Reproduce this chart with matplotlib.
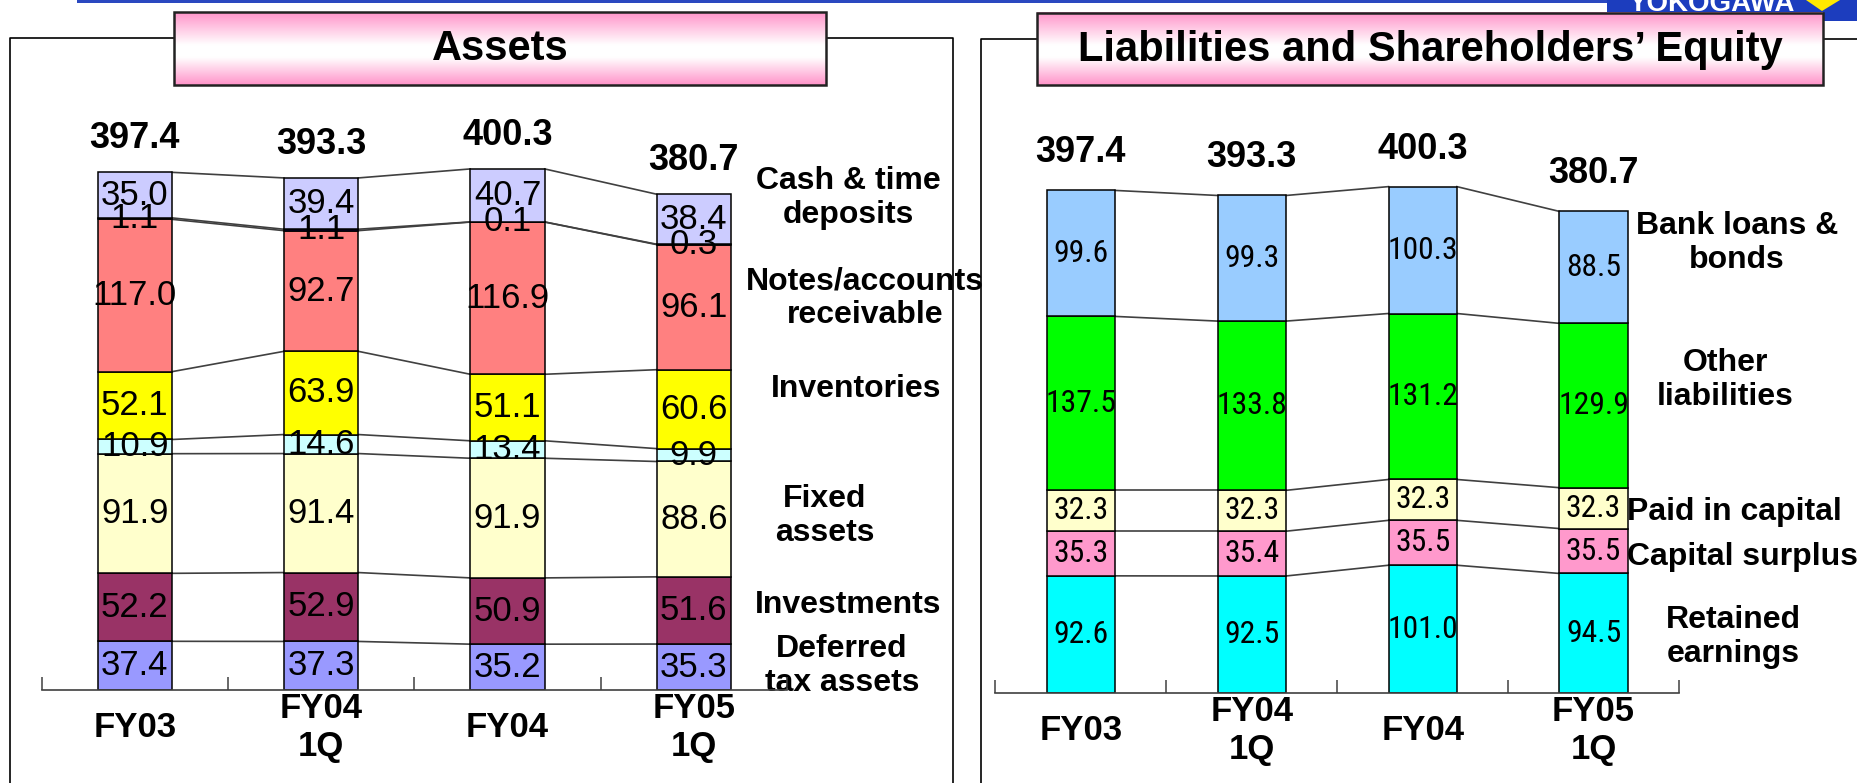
import matplotlib.pyplot as plt
import numpy as np
from matplotlib import font_manager
from matplotlib.font_manager import FontProperties
from matplotlib.textpath import TextPath
from matplotlib.patches import Rectangle, Polygon

plt.rcParams['font.family'] = ['Liberation Sans', 'DejaVu Sans']

# periods on the x axis
periods = ['FY03', 'FY04\n1Q', 'FY04', 'FY05\n1Q']
totals = [397.4, 393.3, 400.3, 380.7]

# assets (billion yen), bottom to top of each bar
deferred_tax = [37.4, 37.3, 35.2, 35.3]
investments = [52.2, 52.9, 50.9, 51.6]
fixed_assets = [91.9, 91.4, 91.9, 88.6]
other_current = [10.9, 14.6, 13.4, 9.9]
inventories = [52.1, 63.9, 51.1, 60.6]
receivables = [117.0, 92.7, 116.9, 96.1]
securities = [1.1, 1.1, 0.1, 0.3]
cash = [35.0, 39.4, 40.7, 38.4]

# liabilities and shareholders' equity, bottom to top
retained = [92.6, 92.5, 101.0, 94.5]
cap_surplus = [35.3, 35.4, 35.5, 35.5]
paid_in = [32.3, 32.3, 32.3, 32.3]
other_liab = [137.5, 133.8, 131.2, 129.9]
bank_loans = [99.6, 99.3, 100.3, 88.5]

asset_layers = [deferred_tax, investments, fixed_assets, other_current,
                inventories, receivables, securities, cash]
asset_colors = ['#9999FF', '#993366', '#FFFFCC', '#CCFFFF',
                '#FFFF00', '#FF8080', '#000066', '#CCCCFF']
liab_layers = [retained, cap_surplus, paid_in, other_liab, bank_loans]
liab_colors = ['#00FFFF', '#FF99CC', '#FFFFCC', '#00FF00', '#99CCFF']

W, H = 1858, 783
fig = plt.figure(figsize=(W / 100, H / 100), dpi=100)

# background axes in pixel units for frames, titles and side labels
bg = fig.add_axes([0, 0, 1, 1], zorder=0)
bg.axis('off')

# a narrow font for the right hand values, sized so "88.5" is about 52 px wide
names = {f.name for f in font_manager.fontManager.ttflist}
narrow_family = 'Liberation Sans'
for cand in ['Liberation Sans Narrow', 'Arial Narrow', 'Roboto Condensed',
             'Archivo Narrow', 'PT Sans Narrow', 'Open Sans Condensed',
             'IBM Plex Sans Condensed']:
    if cand in names:
        narrow_family = cand
        break
fp = FontProperties(family=narrow_family)
w100 = TextPath((0, 0), '88.5', size=100, prop=fp).get_extents().width
narrow_size = min(26, 52 * 72 / w100)
narrow = dict(family=narrow_family, size=narrow_size)


def px_axes(left, right, base, top):
    return fig.add_axes([left / W, 1 - base / H, (right - left) / W, (base - top) / H],
                        zorder=1)


def draw_stack(ax, layers, colors, label_kw, total_offset):
    x = np.arange(len(periods))
    width = 0.4
    data = np.array(layers)
    cum = np.vstack([np.zeros(len(x)), np.cumsum(data, axis=0)])
    for k in range(len(layers)):
        ax.bar(x, data[k], width, bottom=cum[k], color=colors[k],
               edgecolor='black', linewidth=1.1, zorder=2)
        for i in range(len(x)):
            ax.text(x[i], cum[k][i] + data[k][i] / 2, f'{data[k][i]:.1f}',
                    ha='center', va='center', color='black', zorder=4, **label_kw)
    # series lines between the bars
    for i in range(len(x) - 1):
        for k in range(1, len(cum)):
            ax.plot([x[i] + width / 2, x[i + 1] - width / 2], [cum[k][i], cum[k][i + 1]],
                    color='#404040', lw=1.2, zorder=1)
    for i in range(len(x)):
        ax.annotate(f'{totals[i]:.1f}', xy=(x[i], cum[-1][i]), xytext=(0, total_offset),
                    textcoords='offset points', ha='center', va='center',
                    fontsize=26, fontweight='bold', annotation_clip=False)

    ax.set_xlim(-0.5, 3.5)
    ax.set_ylim(0, 450)
    ax.patch.set_visible(False)
    for s in ['left', 'top', 'right']:
        ax.spines[s].set_visible(False)
    ax.spines['bottom'].set_color('#404040')
    ax.spines['bottom'].set_linewidth(1.2)
    ax.set_yticks([])
    ax.set_xticks(x, periods)
    ax.set_xticks(np.arange(-0.5, 4, 1), minor=True)
    ax.tick_params(axis='x', which='major', length=0, pad=27, labelsize=25)
    ax.tick_params(axis='x', which='minor', direction='in', length=9.5, width=1.1,
                   color='#404040')
    for lbl in ax.get_xticklabels():
        lbl.set_fontweight('bold')
        lbl.set_va('center')
        lbl.set_linespacing(1.2)


def title_box(x0, y0, x1, y1, text):
    t = np.linspace(0, 1, 120)
    w = np.clip(1 - t / 0.45, 0, 1) + np.clip((t - 0.62) / 0.38, 0, 1)
    pink = np.array([1.0, 0.58, 0.79])
    rgb = 1 - w[:, None] * (1 - pink)
    img = np.repeat(rgb[:, None, :], 2, axis=1)
    bg.imshow(img, extent=[x0, x1, y1, y0], aspect='auto', zorder=3)
    bg.add_patch(Rectangle((x0, y0), x1 - x0, y1 - y0, fill=False, ec='#222222',
                           lw=1.8, zorder=4))
    bg.text((x0 + x1) / 2, (y0 + y1) / 2 + 1, text, ha='center', va='center',
            fontsize=30, fontweight='bold', zorder=5)


# frames around the two panels
bg.plot([10, 10, 953, 953], [800, 38, 38, 800], color='black', lw=1.2, zorder=1)
bg.plot([981, 981, 1870], [800, 39, 39], color='black', lw=1.2, zorder=1)

# blue line and logo at the top
bg.add_patch(Rectangle((77, 0), 1530, 2.5, color='#2A48C0', lw=0, zorder=2))
logo = Rectangle((1607, -5), 260, 18, color='#1C3DBE', lw=0, zorder=2)
bg.add_patch(logo)
bg.add_patch(Rectangle((1823, -5), 40, 26, color='#1C3DBE', lw=0, zorder=2))
bg.add_patch(Polygon([[1806, 0], [1822, 11], [1840, 0]], closed=True,
                     color='#FFE800', lw=0, zorder=3))
logo_txt = bg.text(1712, 11, 'YOKOGAWA', color='white', fontsize=20, fontweight='bold',
                   ha='center', va='baseline', zorder=3)
logo_txt.set_clip_path(logo)

title_box(174.5, 12, 826.5, 85, 'Assets')
title_box(1037, 12.5, 1823, 85, 'Liabilities and Shareholders\u2019 Equity')

# side labels
side_kw = dict(ha='center', va='center', fontsize=23, fontweight='bold',
               linespacing=1.15, zorder=6)
bg.text(848, 198, 'Cash & time\ndeposits', **side_kw)
bg.text(865, 298, 'Notes/accounts\nreceivable', **side_kw)
bg.text(856, 389, 'Inventories', **side_kw)
bg.text(825, 516, 'Fixed\nassets', **side_kw)
bg.text(848, 605, 'Investments', **side_kw)
bg.text(842, 666, 'Deferred\ntax assets', **side_kw)

bg.text(1737, 243, 'Bank loans &\nbonds', **side_kw)
bg.text(1725, 380, 'Other\nliabilities', **side_kw)
bg.text(1627, 512, 'Paid in capital', **{**side_kw, 'ha': 'left'})
bg.text(1627, 557, 'Capital surplus', **{**side_kw, 'ha': 'left'})
bg.text(1733, 637, 'Retained\nearnings', **side_kw)

bg.set_xlim(0, W)
bg.set_ylim(H, 0)

# the two stacked bar panels
ax1 = px_axes(41.6, 787, 690, 690 - 450 * 1.302)
draw_stack(ax1, asset_layers, asset_colors, dict(fontsize=25), 24)

ax2 = px_axes(995.5, 1679, 693, 693 - 450 * 1.265)
draw_stack(ax2, liab_layers, liab_colors, narrow, 27)

fig.savefig('out.png', dpi=100)
